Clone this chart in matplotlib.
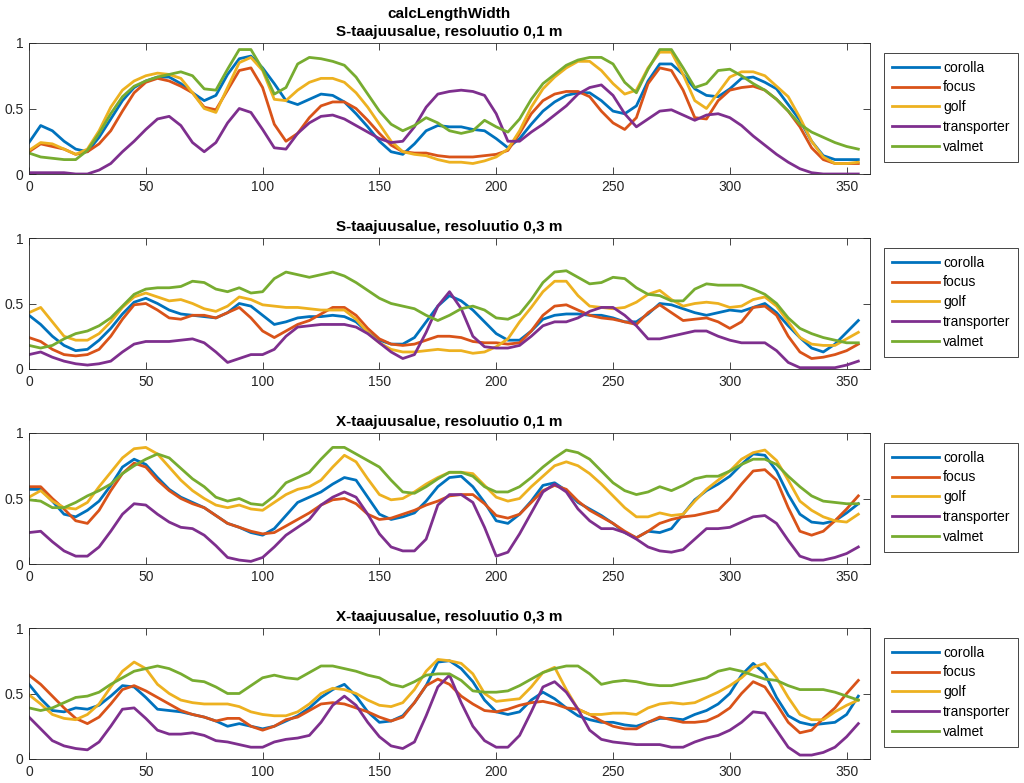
"""calcLengthWidth: length/width ratio vs. aspect angle, four radar panels."""

import matplotlib
matplotlib.use("Agg")
import matplotlib.pyplot as plt

# aspect angle (deg), 5 degree steps
ANGLE = list(range(0, 360, 5))
VEHICLES = ["corolla", "focus", "golf", "transporter", "valmet"]
COLORS = ["#0072BD", "#D95319", "#EDB120", "#7E2F8E", "#77AC30"]
TITLES = [
    "S-taajuusalue, resoluutio 0,1 m",
    "S-taajuusalue, resoluutio 0,3 m",
    "X-taajuusalue, resoluutio 0,1 m",
    "X-taajuusalue, resoluutio 0,3 m",
]

# --- S band, 0.1 m ---
s01_corolla = [0.24, 0.37, 0.33, 0.25, 0.19, 0.17, 0.28, 0.42, 0.56, 0.66, 0.71, 0.74, 0.74, 0.69, 0.62, 0.56, 0.60, 0.76,
               0.88, 0.90, 0.81, 0.69, 0.56, 0.53, 0.57, 0.61, 0.60, 0.55, 0.46, 0.36, 0.25, 0.17, 0.15, 0.23, 0.33, 0.37,
               0.36, 0.36, 0.34, 0.33, 0.27, 0.20, 0.27, 0.38, 0.48, 0.55, 0.60, 0.62, 0.62, 0.56, 0.48, 0.46, 0.52, 0.71,
               0.84, 0.84, 0.76, 0.65, 0.60, 0.59, 0.65, 0.73, 0.74, 0.70, 0.65, 0.53, 0.41, 0.25, 0.14, 0.11, 0.11, 0.11]
s01_focus = [0.17, 0.23, 0.21, 0.19, 0.15, 0.17, 0.23, 0.33, 0.48, 0.62, 0.70, 0.73, 0.71, 0.67, 0.62, 0.51, 0.49, 0.64,
             0.79, 0.81, 0.66, 0.38, 0.25, 0.31, 0.43, 0.52, 0.55, 0.55, 0.50, 0.41, 0.31, 0.22, 0.17, 0.16, 0.16, 0.14,
             0.13, 0.13, 0.13, 0.14, 0.15, 0.18, 0.31, 0.46, 0.56, 0.61, 0.63, 0.63, 0.59, 0.48, 0.39, 0.34, 0.43, 0.69,
             0.81, 0.79, 0.64, 0.43, 0.42, 0.56, 0.64, 0.66, 0.67, 0.64, 0.57, 0.48, 0.36, 0.20, 0.11, 0.08, 0.08, 0.08]
s01_golf = [0.18, 0.24, 0.23, 0.19, 0.15, 0.19, 0.33, 0.51, 0.64, 0.71, 0.75, 0.77, 0.76, 0.73, 0.62, 0.50, 0.47, 0.66,
            0.85, 0.89, 0.79, 0.57, 0.56, 0.64, 0.70, 0.73, 0.73, 0.70, 0.62, 0.51, 0.38, 0.25, 0.17, 0.15, 0.14, 0.11,
            0.09, 0.09, 0.08, 0.10, 0.13, 0.19, 0.33, 0.51, 0.65, 0.74, 0.81, 0.86, 0.86, 0.79, 0.69, 0.61, 0.64, 0.81,
            0.93, 0.93, 0.76, 0.56, 0.50, 0.62, 0.74, 0.78, 0.78, 0.75, 0.67, 0.59, 0.43, 0.25, 0.13, 0.08, 0.08, 0.09]
s01_transporter = [0.01, 0.01, 0.01, 0.01, 0.00, 0.00, 0.03, 0.08, 0.17, 0.25, 0.34, 0.42, 0.44, 0.37, 0.24, 0.17, 0.24,
                   0.39, 0.50, 0.47, 0.34, 0.20, 0.19, 0.31, 0.39, 0.44, 0.45, 0.42, 0.37, 0.32, 0.27, 0.24, 0.25, 0.36,
                   0.51, 0.61, 0.63, 0.64, 0.63, 0.60, 0.46, 0.25, 0.25, 0.32, 0.38, 0.45, 0.52, 0.61, 0.66, 0.68, 0.60,
                   0.46, 0.36, 0.42, 0.48, 0.49, 0.45, 0.41, 0.45, 0.46, 0.43, 0.37, 0.29, 0.22, 0.15, 0.09, 0.04, 0.01,
                   0.00, 0.00, 0.00, 0.00]
s01_valmet = [0.16, 0.13, 0.12, 0.11, 0.11, 0.18, 0.31, 0.46, 0.59, 0.67, 0.71, 0.74, 0.76, 0.78, 0.75, 0.65, 0.64, 0.80,
              0.95, 0.95, 0.80, 0.61, 0.66, 0.84, 0.89, 0.88, 0.86, 0.83, 0.74, 0.61, 0.48, 0.38, 0.33, 0.37, 0.43, 0.39,
              0.33, 0.31, 0.33, 0.41, 0.36, 0.32, 0.42, 0.57, 0.69, 0.76, 0.83, 0.87, 0.89, 0.89, 0.84, 0.70, 0.62, 0.80,
              0.95, 0.95, 0.81, 0.66, 0.69, 0.79, 0.80, 0.75, 0.69, 0.64, 0.57, 0.48, 0.38, 0.32, 0.28, 0.24, 0.21, 0.19]

# --- S band, 0.3 m ---
s03_corolla = [0.41, 0.34, 0.25, 0.18, 0.14, 0.15, 0.22, 0.31, 0.42, 0.51, 0.54, 0.50, 0.45, 0.42, 0.41, 0.40, 0.39, 0.43,
               0.50, 0.48, 0.41, 0.34, 0.36, 0.39, 0.40, 0.40, 0.41, 0.40, 0.36, 0.28, 0.22, 0.19, 0.19, 0.24, 0.36, 0.48,
               0.56, 0.52, 0.45, 0.36, 0.27, 0.22, 0.22, 0.29, 0.38, 0.41, 0.42, 0.42, 0.41, 0.41, 0.39, 0.36, 0.36, 0.42,
               0.50, 0.49, 0.46, 0.43, 0.41, 0.43, 0.45, 0.44, 0.47, 0.50, 0.43, 0.33, 0.24, 0.16, 0.13, 0.19, 0.28, 0.37]
s03_focus = [0.24, 0.21, 0.15, 0.11, 0.10, 0.11, 0.15, 0.25, 0.38, 0.49, 0.50, 0.45, 0.39, 0.38, 0.41, 0.41, 0.39, 0.43,
             0.47, 0.39, 0.29, 0.24, 0.29, 0.34, 0.37, 0.42, 0.47, 0.47, 0.41, 0.31, 0.23, 0.19, 0.18, 0.19, 0.22, 0.25,
             0.25, 0.24, 0.21, 0.20, 0.20, 0.19, 0.20, 0.29, 0.41, 0.48, 0.49, 0.45, 0.41, 0.39, 0.38, 0.36, 0.34, 0.43,
             0.49, 0.43, 0.37, 0.38, 0.39, 0.36, 0.31, 0.36, 0.47, 0.48, 0.41, 0.25, 0.13, 0.08, 0.09, 0.11, 0.14, 0.19]
s03_golf = [0.43, 0.47, 0.36, 0.25, 0.22, 0.22, 0.27, 0.36, 0.47, 0.55, 0.58, 0.55, 0.52, 0.53, 0.50, 0.46, 0.44, 0.48,
            0.55, 0.53, 0.49, 0.48, 0.47, 0.47, 0.46, 0.45, 0.45, 0.45, 0.38, 0.28, 0.20, 0.15, 0.13, 0.13, 0.14, 0.15,
            0.14, 0.14, 0.12, 0.13, 0.17, 0.23, 0.36, 0.47, 0.59, 0.67, 0.67, 0.56, 0.48, 0.47, 0.46, 0.47, 0.51, 0.57,
            0.60, 0.53, 0.48, 0.50, 0.51, 0.50, 0.47, 0.48, 0.53, 0.55, 0.48, 0.36, 0.24, 0.19, 0.18, 0.18, 0.23, 0.28]
s03_transporter = [0.11, 0.13, 0.09, 0.06, 0.04, 0.03, 0.04, 0.06, 0.13, 0.19, 0.21, 0.21, 0.21, 0.22, 0.23, 0.20, 0.13,
                   0.05, 0.08, 0.11, 0.11, 0.15, 0.25, 0.32, 0.33, 0.34, 0.34, 0.34, 0.32, 0.27, 0.20, 0.13, 0.08, 0.11,
                   0.28, 0.48, 0.59, 0.46, 0.25, 0.17, 0.16, 0.16, 0.18, 0.25, 0.33, 0.36, 0.36, 0.39, 0.44, 0.47, 0.47,
                   0.41, 0.33, 0.23, 0.23, 0.25, 0.27, 0.29, 0.29, 0.25, 0.22, 0.20, 0.20, 0.20, 0.14, 0.05, 0.01, 0.01,
                   0.01, 0.01, 0.03, 0.06]
s03_valmet = [0.18, 0.16, 0.18, 0.23, 0.27, 0.29, 0.33, 0.39, 0.48, 0.57, 0.61, 0.62, 0.62, 0.63, 0.67, 0.66, 0.61, 0.59,
              0.62, 0.58, 0.59, 0.69, 0.74, 0.72, 0.70, 0.72, 0.74, 0.71, 0.66, 0.60, 0.54, 0.50, 0.48, 0.46, 0.41, 0.37,
              0.41, 0.46, 0.48, 0.45, 0.39, 0.38, 0.42, 0.53, 0.66, 0.74, 0.75, 0.70, 0.65, 0.66, 0.70, 0.69, 0.62, 0.57,
              0.56, 0.52, 0.52, 0.61, 0.65, 0.64, 0.64, 0.64, 0.61, 0.57, 0.50, 0.39, 0.31, 0.27, 0.24, 0.22, 0.20, 0.20]

# --- X band, 0.1 m ---
x01_corolla = [0.57, 0.57, 0.48, 0.38, 0.36, 0.41, 0.48, 0.60, 0.74, 0.80, 0.76, 0.66, 0.57, 0.51, 0.47, 0.43, 0.37, 0.31,
               0.28, 0.24, 0.22, 0.27, 0.37, 0.47, 0.51, 0.55, 0.61, 0.66, 0.64, 0.51, 0.38, 0.34, 0.36, 0.39, 0.48, 0.59,
               0.66, 0.67, 0.59, 0.47, 0.33, 0.31, 0.38, 0.48, 0.60, 0.62, 0.56, 0.47, 0.42, 0.37, 0.31, 0.24, 0.20, 0.25,
               0.24, 0.27, 0.38, 0.49, 0.56, 0.61, 0.67, 0.76, 0.84, 0.83, 0.71, 0.53, 0.38, 0.32, 0.31, 0.33, 0.39, 0.46]
x01_focus = [0.59, 0.59, 0.50, 0.42, 0.33, 0.31, 0.41, 0.56, 0.69, 0.77, 0.74, 0.64, 0.56, 0.50, 0.46, 0.43, 0.37, 0.31,
             0.28, 0.25, 0.23, 0.24, 0.29, 0.34, 0.39, 0.45, 0.49, 0.50, 0.46, 0.38, 0.34, 0.35, 0.38, 0.41, 0.45, 0.48,
             0.52, 0.53, 0.53, 0.46, 0.37, 0.35, 0.38, 0.47, 0.56, 0.60, 0.57, 0.48, 0.41, 0.36, 0.31, 0.25, 0.20, 0.25,
             0.31, 0.34, 0.36, 0.37, 0.39, 0.41, 0.50, 0.61, 0.71, 0.72, 0.64, 0.43, 0.25, 0.22, 0.25, 0.33, 0.42, 0.52]
x01_golf = [0.51, 0.56, 0.48, 0.43, 0.42, 0.47, 0.59, 0.70, 0.81, 0.88, 0.89, 0.84, 0.74, 0.64, 0.56, 0.50, 0.45, 0.43,
            0.45, 0.42, 0.41, 0.47, 0.53, 0.57, 0.59, 0.64, 0.74, 0.83, 0.78, 0.65, 0.53, 0.49, 0.50, 0.55, 0.61, 0.66,
            0.70, 0.70, 0.69, 0.60, 0.51, 0.48, 0.50, 0.59, 0.67, 0.75, 0.78, 0.75, 0.69, 0.61, 0.52, 0.43, 0.36, 0.36,
            0.39, 0.37, 0.38, 0.48, 0.57, 0.64, 0.71, 0.80, 0.85, 0.87, 0.79, 0.64, 0.48, 0.41, 0.36, 0.33, 0.32, 0.38]
x01_transporter = [0.24, 0.25, 0.17, 0.10, 0.06, 0.06, 0.13, 0.25, 0.38, 0.46, 0.45, 0.38, 0.32, 0.28, 0.27, 0.22, 0.14,
                   0.05, 0.03, 0.02, 0.05, 0.13, 0.22, 0.28, 0.34, 0.45, 0.51, 0.55, 0.51, 0.38, 0.23, 0.13, 0.10, 0.10,
                   0.19, 0.45, 0.53, 0.53, 0.47, 0.28, 0.06, 0.09, 0.23, 0.39, 0.55, 0.61, 0.55, 0.42, 0.33, 0.27, 0.27,
                   0.24, 0.19, 0.13, 0.10, 0.09, 0.11, 0.19, 0.27, 0.27, 0.28, 0.32, 0.36, 0.37, 0.31, 0.18, 0.06, 0.03,
                   0.03, 0.05, 0.08, 0.13]
x01_valmet = [0.49, 0.48, 0.43, 0.43, 0.47, 0.52, 0.56, 0.61, 0.69, 0.75, 0.80, 0.84, 0.81, 0.73, 0.65, 0.59, 0.51, 0.48,
              0.50, 0.46, 0.45, 0.52, 0.62, 0.66, 0.70, 0.80, 0.89, 0.89, 0.84, 0.79, 0.74, 0.64, 0.55, 0.54, 0.59, 0.65,
              0.70, 0.70, 0.67, 0.59, 0.55, 0.55, 0.59, 0.66, 0.74, 0.81, 0.87, 0.85, 0.80, 0.71, 0.62, 0.56, 0.53, 0.55,
              0.59, 0.56, 0.60, 0.65, 0.67, 0.67, 0.71, 0.76, 0.80, 0.80, 0.76, 0.67, 0.59, 0.52, 0.48, 0.47, 0.46, 0.46]

# --- X band, 0.3 m ---
x03_corolla = [0.57, 0.46, 0.37, 0.36, 0.39, 0.38, 0.41, 0.48, 0.56, 0.55, 0.47, 0.38, 0.37, 0.36, 0.34, 0.32, 0.29, 0.25,
               0.27, 0.25, 0.23, 0.25, 0.29, 0.33, 0.39, 0.47, 0.53, 0.57, 0.48, 0.36, 0.28, 0.29, 0.33, 0.43, 0.56, 0.74,
               0.75, 0.69, 0.59, 0.45, 0.36, 0.34, 0.36, 0.45, 0.51, 0.46, 0.39, 0.33, 0.30, 0.28, 0.28, 0.26, 0.25, 0.28,
               0.31, 0.31, 0.30, 0.34, 0.37, 0.42, 0.50, 0.64, 0.73, 0.65, 0.47, 0.33, 0.28, 0.26, 0.27, 0.28, 0.34, 0.48]
x03_focus = [0.64, 0.57, 0.48, 0.39, 0.31, 0.27, 0.32, 0.42, 0.53, 0.56, 0.52, 0.47, 0.42, 0.37, 0.34, 0.32, 0.29, 0.31,
             0.31, 0.25, 0.22, 0.25, 0.30, 0.32, 0.37, 0.42, 0.43, 0.42, 0.39, 0.36, 0.32, 0.29, 0.32, 0.43, 0.56, 0.61,
             0.57, 0.48, 0.42, 0.37, 0.36, 0.38, 0.41, 0.43, 0.44, 0.42, 0.39, 0.38, 0.34, 0.29, 0.25, 0.23, 0.23, 0.28,
             0.32, 0.30, 0.28, 0.28, 0.29, 0.33, 0.39, 0.50, 0.59, 0.55, 0.42, 0.28, 0.20, 0.22, 0.31, 0.39, 0.50, 0.60]
x03_golf = [0.49, 0.42, 0.34, 0.31, 0.30, 0.34, 0.42, 0.55, 0.67, 0.74, 0.69, 0.57, 0.50, 0.45, 0.43, 0.42, 0.42, 0.42,
            0.40, 0.36, 0.34, 0.33, 0.33, 0.36, 0.42, 0.50, 0.54, 0.53, 0.50, 0.45, 0.41, 0.40, 0.43, 0.53, 0.67, 0.76,
            0.75, 0.73, 0.65, 0.50, 0.44, 0.45, 0.46, 0.55, 0.66, 0.70, 0.53, 0.38, 0.34, 0.34, 0.35, 0.35, 0.34, 0.39,
            0.42, 0.43, 0.42, 0.43, 0.47, 0.51, 0.56, 0.62, 0.70, 0.73, 0.62, 0.47, 0.34, 0.30, 0.30, 0.36, 0.41, 0.45]
x03_transporter = [0.32, 0.23, 0.14, 0.10, 0.08, 0.07, 0.13, 0.25, 0.38, 0.39, 0.31, 0.22, 0.19, 0.19, 0.20, 0.18, 0.14,
                   0.13, 0.11, 0.09, 0.09, 0.13, 0.15, 0.16, 0.18, 0.28, 0.41, 0.48, 0.41, 0.28, 0.17, 0.10, 0.08, 0.13,
                   0.33, 0.55, 0.64, 0.43, 0.25, 0.14, 0.09, 0.09, 0.18, 0.36, 0.55, 0.59, 0.51, 0.38, 0.22, 0.15, 0.13,
                   0.12, 0.11, 0.11, 0.11, 0.09, 0.09, 0.13, 0.16, 0.18, 0.22, 0.28, 0.36, 0.35, 0.22, 0.09, 0.03, 0.03,
                   0.05, 0.09, 0.17, 0.27]
x03_valmet = [0.39, 0.37, 0.39, 0.43, 0.47, 0.48, 0.51, 0.57, 0.62, 0.67, 0.69, 0.71, 0.69, 0.65, 0.60, 0.59, 0.55, 0.50,
              0.50, 0.56, 0.62, 0.64, 0.62, 0.61, 0.66, 0.71, 0.71, 0.69, 0.67, 0.64, 0.62, 0.57, 0.55, 0.59, 0.64, 0.65,
              0.65, 0.60, 0.52, 0.51, 0.51, 0.52, 0.56, 0.61, 0.66, 0.69, 0.71, 0.71, 0.65, 0.57, 0.59, 0.60, 0.59, 0.57,
              0.56, 0.56, 0.58, 0.60, 0.62, 0.67, 0.69, 0.67, 0.64, 0.61, 0.60, 0.56, 0.53, 0.53, 0.53, 0.51, 0.48, 0.45]

PANEL_DATA = [
    [s01_corolla, s01_focus, s01_golf, s01_transporter, s01_valmet],
    [s03_corolla, s03_focus, s03_golf, s03_transporter, s03_valmet],
    [x01_corolla, x01_focus, x01_golf, x01_transporter, x01_valmet],
    [x03_corolla, x03_focus, x03_golf, x03_transporter, x03_valmet],
]

plt.rcParams["font.family"] = ["Liberation Sans", "DejaVu Sans"]
AXC = "#262626"

fig = plt.figure(figsize=(10.24, 7.83), dpi=100)

# axes boxes in pixels (top edge), matching the MATLAB layout
W, H = 1024, 783
left_px, width_px, height_px = 29, 841, 131
tops_px = [43, 238, 433, 628]

for i, (title, series) in enumerate(zip(TITLES, PANEL_DATA)):
    top = tops_px[i]
    ax = fig.add_axes([left_px / W, 1 - (top + height_px) / H, width_px / W, height_px / H])
    for name, vals, col in zip(VEHICLES, series, COLORS):
        ax.plot(ANGLE, vals, color=col, lw=2, label=name)

    ax.set_xlim(0, 360)
    ax.set_ylim(0, 1)
    ax.set_xticks(range(0, 351, 50))
    ax.set_yticks([0, 0.5, 1])
    ax.set_yticklabels(["0", "0.5", "1"])
    ax.tick_params(direction="in", top=True, right=True, length=5, width=0.6,
                   colors=AXC, labelsize=10, pad=4)
    for sp in ax.spines.values():
        sp.set_color(AXC)
        sp.set_linewidth(0.6)

    full_title = title if i > 0 else "calcLengthWidth\n" + title
    ax.set_title(full_title, fontsize=11, fontweight="bold", pad=5, linespacing=1.35, color="black")

    leg = ax.legend(loc="upper left", bbox_to_anchor=((884 - left_px) / width_px, 1 - 10 / height_px),
                    borderaxespad=0, fontsize=10, handlelength=3.4, handletextpad=0.3,
                    labelspacing=0.42, borderpad=0.55, fancybox=False, framealpha=1)
    leg.get_frame().set_edgecolor(AXC)
    leg.get_frame().set_linewidth(0.6)

fig.savefig("out.png", dpi=100)
